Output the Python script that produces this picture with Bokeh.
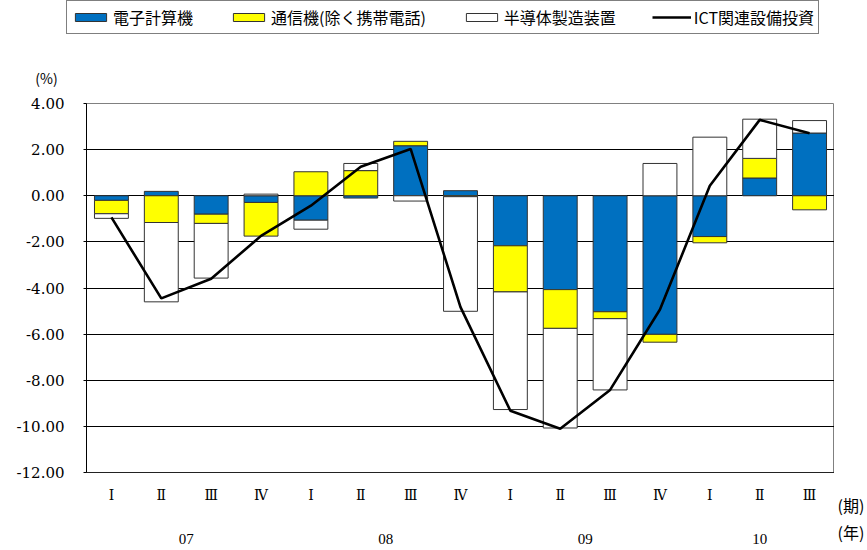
import numpy as np
from bokeh.plotting import figure
from bokeh.layouts import column, row
from bokeh.models import (ColumnDataSource, FixedTicker, LinearAxis, Range1d, Legend, LegendItem,
                          Label, PrintfTickFormatter)
from bokeh.embed import file_html
from bokeh.resources import INLINE

# ---- data ----
quarters = ["Ⅰ", "Ⅱ", "Ⅲ", "Ⅳ", "Ⅰ", "Ⅱ", "Ⅲ", "Ⅳ", "Ⅰ", "Ⅱ", "Ⅲ", "Ⅳ", "Ⅰ", "Ⅱ", "Ⅲ"]
years = ["07", "08", "09", "10"]
year_first_idx = [0, 4, 8, 12]
year_counts = [4, 4, 4, 3]

computers = [-0.20, 0.19, -0.80, -0.29, -1.06, -0.10, 2.17, 0.22, -2.17, -4.07, -5.03, -6.01, -1.77, 0.77, 2.72]
telecom = [-0.58, -1.16, -0.40, -1.46, 1.04, 1.09, 0.19, -0.04, -2.00, -1.68, -0.30, -0.34, -0.27, 0.85, -0.61]
semicon = [-0.20, -3.44, -2.37, 0.07, -0.39, 0.31, -0.23, -4.97, -5.10, -4.32, -3.09, 1.40, 2.54, 1.70, 0.54]
ict_total = [-0.94, -4.45, -3.60, -1.74, -0.43, 1.26, 2.03, -4.83, -9.32, -10.10, -8.42, -4.93, 0.43, 3.29, 2.71]

series_names = ["電子計算機", "通信機(除く携帯電話)", "半導体製造装置"]
line_name = "ICT関連設備投資"
colors = ["#0070C0", "#FFFF00", "#FFFFFF"]
unit_y = "(%)"
unit_q = "(期)"
unit_year = "(年)"

n = len(quarters)
xc = np.arange(n) + 0.5
BAR_LINE = "#333333"
LINE_W = 2.6
TOP_H = 91
MAIN_H = 550 - TOP_H


def style_bare(f):
    f.outline_line_color = None
    f.background_fill_color = "white"
    f.border_fill_color = "white"
    f.grid.grid_line_color = None
    return f


# ---------------- main chart ----------------
p = figure(width=834, height=MAIN_H, output_backend="svg", toolbar_location=None,
           x_range=Range1d(0, n), y_range=Range1d(-12, 4),
           min_border_left=86, min_border_right=0, min_border_top=12, min_border_bottom=78)
p.background_fill_color = "white"
p.border_fill_color = "white"
p.outline_line_color = "#808080"
p.outline_line_width = 1

pos = np.zeros(n)
neg = np.zeros(n)
for vals, col in zip([computers, telecom, semicon], colors):
    v = np.array(vals)
    bottom = np.where(v >= 0, pos, neg)
    top = bottom + v
    pos = np.where(v >= 0, top, pos)
    neg = np.where(v < 0, top, neg)
    src = ColumnDataSource(dict(x=xc, bottom=bottom, top=top))
    p.vbar(x="x", width=0.68, bottom="bottom", top="top", source=src,
           fill_color=col, line_color=BAR_LINE, line_width=1)

p.line(xc, ict_total, line_color="black", line_width=LINE_W)

yt = list(range(-12, 5, 2))
p.yaxis.ticker = FixedTicker(ticks=yt)
p.yaxis.formatter = PrintfTickFormatter(format="%.2f")
p.yaxis.axis_line_color = "black"
p.yaxis.major_tick_line_color = "black"
p.yaxis.major_tick_out = 3
p.yaxis.major_tick_in = 0
p.yaxis.minor_tick_line_color = None
p.yaxis.major_label_standoff = 19
p.yaxis.major_label_text_font = "DejaVu Serif"
p.yaxis.major_label_text_font_size = "15px"
p.yaxis.major_label_text_color = "black"

p.ygrid.ticker = FixedTicker(ticks=list(range(-10, 3, 2)))
p.ygrid.grid_line_color = "black"
p.ygrid.grid_line_width = 1
p.xgrid.grid_line_color = None

p.xaxis.ticker = FixedTicker(ticks=list(xc))
p.xaxis.major_label_overrides = {float(x): q for x, q in zip(xc, quarters)}
p.xaxis.axis_line_color = "#222222"
p.xaxis.major_tick_line_color = None
p.xaxis.minor_tick_line_color = None
p.xaxis.major_label_standoff = 8
p.xaxis.major_label_text_font = "DejaVu Serif"
p.xaxis.major_label_text_font_size = "14px"
p.xaxis.major_label_text_color = "black"

year_pos = [xc[i] + (c - 1) / 2 for i, c in zip(year_first_idx, year_counts)]
yax = LinearAxis(ticker=FixedTicker(ticks=year_pos),
                 major_label_overrides={float(x): y for x, y in zip(year_pos, years)})
yax.axis_line_color = None
yax.major_tick_line_color = None
yax.minor_tick_line_color = None
yax.major_label_standoff = 22
yax.major_label_text_font = "Liberation Serif"
yax.major_label_text_font_size = "15px"
yax.major_label_text_color = "black"
p.add_layout(yax, "below")

# ---------------- top strip: legend and (%) ----------------
top_fig = figure(width=867, height=TOP_H, output_backend="svg", toolbar_location=None,
                 x_axis_type=None, y_axis_type=None, x_range=Range1d(0, 1), y_range=Range1d(0, 1),
                 min_border=0)
style_bare(top_fig)
leg_renderers = []
for col in colors:
    # swatch renderers kept outside the visible range; only their legend glyphs show
    leg_renderers.append(top_fig.vbar(x=[-10], width=0.5, top=[0], bottom=[-1],
                                      fill_color=col, line_color=BAR_LINE, line_width=1))
leg_line = top_fig.line(x=[-10, -9], y=[-1, -1], line_color="black", line_width=LINE_W)
items = [LegendItem(label=nm, renderers=[r]) for nm, r in zip(series_names, leg_renderers)]
items.append(LegendItem(label=line_name, renderers=[leg_line]))
legend = Legend(items=items, orientation="horizontal", location=(66, TOP_H - 34),
                padding=4, spacing=36, glyph_width=39, glyph_height=10, label_standoff=3,
                label_text_font="Noto Sans CJK JP", label_text_font_size="16px",
                label_text_color="black", border_line_color="black", border_line_width=1,
                background_fill_color="white", background_fill_alpha=1, margin=0)
top_fig.add_layout(legend, "center")
top_fig.add_layout(Label(x=46, y=TOP_H - 77, x_units="screen", y_units="screen", text=unit_y,
                         text_font="Noto Sans CJK JP", text_font_size="14px",
                         text_align="center", text_baseline="middle", text_color="black"))

# ---------------- right strip: (期) and (年) in the two category rows ----------------
right_fig = figure(width=33, height=MAIN_H, output_backend="svg", toolbar_location=None,
                   y_axis_type=None, x_range=Range1d(0, 1), y_range=Range1d(0, 1),
                   min_border_left=0, min_border_right=0, min_border_top=12, min_border_bottom=78)
style_bare(right_fig)
right_fig.xaxis.ticker = FixedTicker(ticks=[0.5])
right_fig.xaxis.major_label_overrides = {0.5: unit_q}
right_fig.xaxis.axis_line_color = None
right_fig.xaxis.major_tick_line_color = None
right_fig.xaxis.minor_tick_line_color = None
right_fig.xaxis.major_label_standoff = 14
right_fig.xaxis.major_label_text_font = "Noto Sans CJK JP"
right_fig.xaxis.major_label_text_font_size = "16px"
right_fig.xaxis.major_label_text_color = "black"
rax2 = LinearAxis(ticker=FixedTicker(ticks=[0.5]), major_label_overrides={0.5: unit_year})
rax2.axis_line_color = None
rax2.major_tick_line_color = None
rax2.minor_tick_line_color = None
rax2.major_label_standoff = -6
rax2.major_label_text_font = "Noto Sans CJK JP"
rax2.major_label_text_font_size = "16px"
rax2.major_label_text_color = "black"
right_fig.add_layout(rax2, "below")

layout = column(top_fig, row(p, right_fig, spacing=0), spacing=0)
open("out.html", "w").write(file_html(layout, INLINE))
